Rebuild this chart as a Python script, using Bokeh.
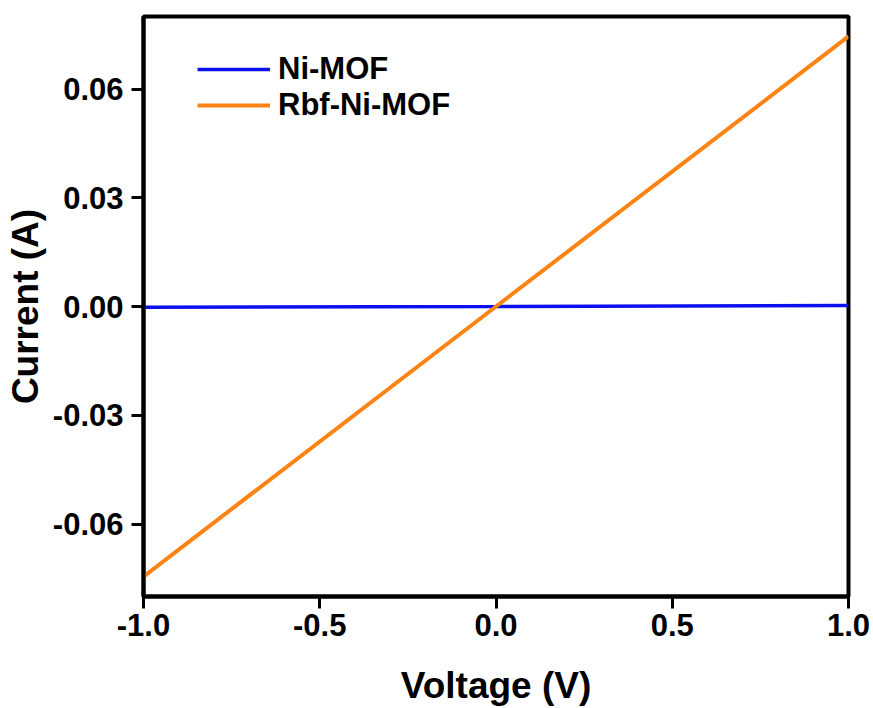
from bokeh.plotting import figure
from bokeh.models import Range1d, FixedTicker, NumeralTickFormatter, Legend, LegendItem
from bokeh.embed import file_html
from bokeh.resources import INLINE

# Data
voltage = [-1.0, 0.0, 1.0]
current_ni_mof = [-0.0002, 0.0, 0.0003]
current_rbf_ni_mof = [-0.0745, 0.0, 0.0745]
x_ticks = [-1.0, -0.5, 0.0, 0.5, 1.0]
y_ticks = [-0.06, -0.03, 0.0, 0.03, 0.06]

FONT = "Liberation Sans"

p = figure(width=873, height=708, output_backend="svg", toolbar_location=None,
           x_range=Range1d(-1.0, 1.0), y_range=Range1d(-0.08, 0.08),
           min_border_left=143, min_border_right=25, min_border_top=16, min_border_bottom=110)

p.background_fill_color = "white"
p.border_fill_color = "white"
p.outline_line_color = "black"
p.outline_line_width = 4
p.xgrid.visible = False
p.ygrid.visible = False

l1 = p.line(voltage, current_ni_mof, line_color="#0d10ee", line_width=3.5)
l2 = p.line(voltage, current_rbf_ni_mof, line_color="#fd8414", line_width=4)

for ax in (p.xaxis[0], p.yaxis[0]):
    ax.axis_line_width = 4
    ax.axis_line_color = "black"
    ax.major_tick_line_width = 3
    ax.major_tick_line_color = "black"
    ax.major_tick_out = 12
    ax.major_tick_in = 0
    ax.minor_tick_line_color = None
    ax.major_label_text_font = FONT
    ax.major_label_text_font_style = "bold"
    ax.major_label_text_font_size = "31px"
    ax.major_label_text_color = "black"
    ax.axis_label_text_font = FONT
    ax.axis_label_text_font_style = "bold"
    ax.axis_label_text_font_size = "37px"
    ax.axis_label_text_color = "black"

p.xaxis[0].ticker = FixedTicker(ticks=x_ticks)
p.xaxis[0].formatter = NumeralTickFormatter(format="0.0")
p.xaxis[0].axis_label = "Voltage (V)"
p.xaxis[0].major_label_standoff = 5
p.xaxis[0].axis_label_standoff = 26

p.yaxis[0].ticker = FixedTicker(ticks=y_ticks)
p.yaxis[0].formatter = NumeralTickFormatter(format="0.00")
p.yaxis[0].axis_label = "Current (A)"
p.yaxis[0].major_label_standoff = 8
p.yaxis[0].axis_label_standoff = 4

legend = Legend(items=[LegendItem(label="Ni-MOF", renderers=[l1]),
                       LegendItem(label="Rbf-Ni-MOF", renderers=[l2])],
                location=(54, 473))
legend.border_line_color = None
legend.background_fill_alpha = 0
legend.padding = 0
legend.margin = 0
legend.spacing = -4
legend.glyph_width = 73
legend.glyph_height = 20
legend.label_height = 20
legend.label_standoff = 8
legend.label_text_font = FONT
legend.label_text_font_style = "bold"
legend.label_text_font_size = "31px"
legend.label_text_color = "black"
p.add_layout(legend)

open("out.html", "w").write(file_html(p, INLINE))
